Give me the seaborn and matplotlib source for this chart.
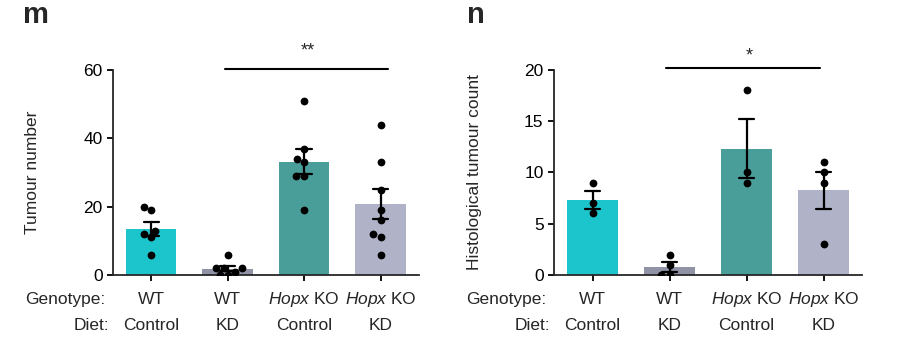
import numpy as np
import pandas as pd
import seaborn as sns
import matplotlib.pyplot as plt
from matplotlib import transforms

sns.set_theme(style='ticks')
plt.rcParams['font.family'] = ['Liberation Sans', 'DejaVu Sans']
plt.rcParams['mathtext.fontset'] = 'custom'
plt.rcParams['mathtext.rm'] = 'Liberation Sans'
plt.rcParams['mathtext.it'] = 'Liberation Sans:italic'

groups = ['WT Control', 'WT KD', 'Hopx KO Control', 'Hopx KO KD']
genotype_labels = ['WT', 'WT', r'$\mathit{Hopx}$ KO', r'$\mathit{Hopx}$ KO']
diet_labels = ['Control', 'KD', 'Control', 'KD']
bar_colors = ['#1cc4cb', '#8f93a5', '#4a9e99', '#b0b3c7']

# panel m - tumour number per mouse
tumour_wt_ctrl = [19, 20, 12, 13, 11, 6]
tumour_wt_kd = [2, 1, 0, 0, 2, 2, 6]
tumour_ko_ctrl = [51, 37, 33, 34, 29, 29, 19]
tumour_ko_kd = [44, 33, 25, 19, 16, 12, 11, 6]

# panel n - histological tumour count
histo_wt_ctrl = [9, 7, 6]
histo_wt_kd = [2, 1, 0, 0]
histo_ko_ctrl = [18, 10, 9]
histo_ko_kd = [11, 10, 9, 3]


def draw_panel(ax, values, ylabel, ymax, yticks, stars, line_x, line_y, star_x, star_y, label_x):
    df = pd.DataFrame({'group': np.repeat(groups, [len(v) for v in values]),
                       'value': np.concatenate(values)})
    sns.barplot(data=df, x='group', y='value', hue='group', order=groups, hue_order=groups,
                palette=bar_colors, saturation=1, errorbar='se', capsize=0.2, width=0.66,
                linewidth=0, err_kws={'color': 'black', 'linewidth': 1.6},
                legend=False, ax=ax)
    sns.swarmplot(data=df, x='group', y='value', order=groups, color='black', size=5.6, ax=ax)

    ax.set_xlim(-0.5, 3.5)
    ax.set_ylim(0, ymax)
    ax.set_yticks(yticks)
    ax.set_xticks(range(len(groups)))
    ax.set_xticklabels([])
    ax.set_xlabel('')
    ax.set_ylabel(ylabel, fontsize=12.5)
    ax.yaxis.set_label_coords(label_x, 0.5)
    sns.despine(ax=ax)
    for s in ['left', 'bottom']:
        ax.spines[s].set_linewidth(1.3)
    ax.tick_params(axis='both', width=1.3, length=4.5, labelsize=12.5, pad=3, colors='black')

    # significance bar
    ax.plot(line_x, [line_y, line_y], color='black', lw=1.5, clip_on=False)
    ax.text(star_x, star_y, stars, ha='center', va='center', fontsize=13)

    # two-row category labels
    trans = transforms.blended_transform_factory(ax.transData, ax.transAxes)
    ax.text(-0.6, -0.142, 'Genotype:', transform=trans, ha='right', va='baseline', fontsize=12.5)
    ax.text(-0.55, -0.268, 'Diet:', transform=trans, ha='right', va='baseline', fontsize=12.5)
    for i in range(len(groups)):
        ax.text(i, -0.142, genotype_labels[i], transform=trans, ha='center', va='baseline', fontsize=12.5)
        ax.text(i, -0.268, diet_labels[i], transform=trans, ha='center', va='baseline', fontsize=12.5)


fig = plt.figure(figsize=(9.02, 3.61), dpi=100)
ax_m = fig.add_axes([0.1253, 0.2382, 0.339, 0.568])
ax_n = fig.add_axes([0.6142, 0.2382, 0.3415, 0.568])

draw_panel(ax_m, [tumour_wt_ctrl, tumour_wt_kd, tumour_ko_ctrl, tumour_ko_kd],
           'Tumour number', 60, [0, 20, 40, 60], '**',
           [0.96, 3.1], 60.3, 2.05, 65.5, -0.24)
draw_panel(ax_n, [histo_wt_ctrl, histo_wt_kd, histo_ko_ctrl, histo_ko_kd],
           'Histological tumour count', 20, [0, 5, 10, 15, 20], '*',
           [0.96, 2.96], 20.2, 2.03, 21.4, -0.234)

fig.text(0.025, 0.935, 'm', fontsize=21, fontweight='bold', ha='left', va='baseline')
fig.text(0.518, 0.935, 'n', fontsize=21, fontweight='bold', ha='left', va='baseline')

fig.savefig('out.png', dpi=100)
